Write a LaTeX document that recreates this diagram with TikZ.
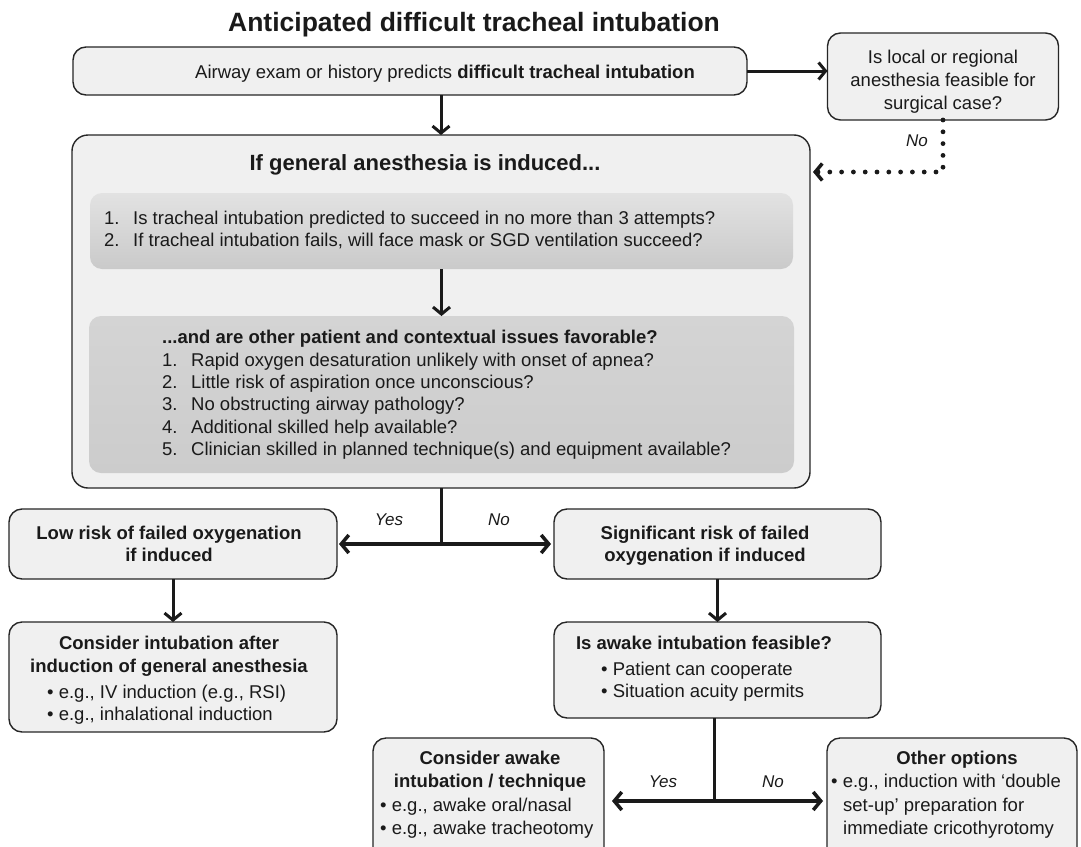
\documentclass[tikz,border=0pt]{standalone}
\usepackage{fontspec}
\setmainfont{Liberation Sans}
\usetikzlibrary{arrows.meta}

\definecolor{ink}{HTML}{1A1A1A}
\definecolor{boxfill}{HTML}{F0F0F0}
\definecolor{boxedge}{HTML}{262626}
\definecolor{shadeTopA}{HTML}{E2E2E2}
\definecolor{shadeMidA}{HTML}{ECECEC}
\definecolor{shadeBotA}{HTML}{CACACA}
\definecolor{shadeTopB}{HTML}{D4D4D4}
\definecolor{shadeMidB}{HTML}{EDEDED}
\definecolor{shadeBotB}{HTML}{CCCCCC}

\tikzset{
  box/.style={draw=boxedge, line width=1.4pt, fill=boxfill, rounded corners=13pt,
              inner sep=0pt, outer sep=0pt},
  bigbox/.style={box, rounded corners=16pt},
  panel/.style={draw=none, rounded corners=12pt, inner sep=0pt, outer sep=0pt},
  txt/.style={inner sep=0pt, text=ink, font=\fontsize{18.5}{22.4}\selectfont},
  btxt/.style={inner sep=0pt, text=ink, font=\fontsize{18.5}{22.4}\selectfont\bfseries},
  lab/.style={inner sep=0pt, text=ink, font=\fontsize{17}{20}\selectfont\itshape},
  line/.style={draw=ink, line width=3pt},
  flow/.style={line, -{Straight Barb[length=7pt,width=17pt]}},
  branch/.style={draw=ink, line width=3.5pt, -{Straight Barb[length=7.5pt,width=18pt]}},
  dotflow/.style={draw=ink, line width=4.8pt, line cap=round,
                  dash pattern=on 0pt off 11.8pt,
                  -{Straight Barb[length=7pt,width=17pt,line width=3.5pt]}},
}

\begin{document}
\begin{tikzpicture}[x=1pt,y=-1pt]
\path[use as bounding box] (0,0) rectangle (1081,846);
\clip (0,0) rectangle (1081,846);
\fill[white] (0,0) rectangle (1081,846);

% title
\node[inner sep=0pt, text=ink, font=\fontsize{26.5}{30}\selectfont\bfseries, anchor=base]
  (title) at (474,31) {Anticipated difficult tracheal intubation};

% boxes
\node[box, minimum width=674pt, minimum height=48pt] (top) at (410,71) {};
\node[box, minimum width=231pt, minimum height=87pt] (local) at (943,76.5) {};
\node[bigbox, minimum width=738pt, minimum height=353pt] (big) at (441,311.5) {};
\node[panel, minimum width=703pt, minimum height=76pt,
      top color=shadeTopA, middle color=shadeMidA, bottom color=shadeBotA]
  (panelA) at (441.5,231) {};
\node[panel, minimum width=705pt, minimum height=157pt,
      top color=shadeTopB, middle color=shadeMidB, bottom color=shadeBotB]
  (panelB) at (441.5,394.5) {};
\node[box, minimum width=328pt, minimum height=70pt] (low) at (173,544) {};
\node[box, minimum width=327pt, minimum height=70pt] (sig) at (717.5,544) {};
\node[box, minimum width=328pt, minimum height=110pt] (gen) at (173,677) {};
\node[box, minimum width=327pt, minimum height=96pt] (awake) at (717.5,670) {};
\node[box, minimum width=231pt, minimum height=140pt] (awtech) at (488.5,808) {};
\node[box, minimum width=250pt, minimum height=140pt] (other) at (952,808) {};

% top row text
\node[txt, anchor=base] (toptext) at (445,78)
  {Airway exam or history predicts \textbf{difficult tracheal intubation}};
\node[txt, anchor=base] (local1) at (943,63) {Is local or regional};
\node[txt, anchor=base] (local2) at (943,86) {anesthesia feasible for};
\node[txt, anchor=base] (local3) at (943,109) {surgical case?};

% general anaesthesia block
\node[inner sep=0pt, text=ink, font=\fontsize{22}{26}\selectfont\bfseries, anchor=base]
  (bighead) at (425,170) {If general anesthesia is induced...};
\node[txt, anchor=base west] (qa1n) at (104,224) {1.};
\node[txt, anchor=base west] (qa1) at (133,224) {Is tracheal intubation predicted to succeed in no more than 3 attempts?};
\node[txt, anchor=base west] (qa2n) at (104,246) {2.};
\node[txt, anchor=base west] (qa2) at (133,246) {If tracheal intubation fails, will face mask or SGD ventilation succeed?};

\node[btxt, anchor=base west] (qbhead) at (162,343.5) {...and are other patient and contextual issues favorable?};
\node[txt, anchor=base west] (qb1n) at (162,366) {1.};
\node[txt, anchor=base west] (qb1) at (191,366) {Rapid oxygen desaturation unlikely with onset of apnea?};
\node[txt, anchor=base west] (qb2n) at (162,388.4) {2.};
\node[txt, anchor=base west] (qb2) at (191,388.4) {Little risk of aspiration once unconscious?};
\node[txt, anchor=base west] (qb3n) at (162,410.8) {3.};
\node[txt, anchor=base west] (qb3) at (191,410.8) {No obstructing airway pathology?};
\node[txt, anchor=base west] (qb4n) at (162,433.2) {4.};
\node[txt, anchor=base west] (qb4) at (191,433.2) {Additional skilled help available?};
\node[txt, anchor=base west] (qb5n) at (162,455.6) {5.};
\node[txt, anchor=base west] (qb5) at (191,455.6) {Clinician skilled in planned technique(s) and equipment available?};

% outcome boxes
\node[btxt, anchor=base] (low1) at (169,539) {Low risk of failed oxygenation};
\node[btxt, anchor=base] (low2) at (169,561) {if induced};
\node[btxt, anchor=base] (sig1) at (705,539) {Significant risk of failed};
\node[btxt, anchor=base] (sig2) at (705,561) {oxygenation if induced};

\node[btxt, anchor=base] (gen1) at (169,649) {Consider intubation after};
\node[btxt, anchor=base] (gen2) at (169,672) {induction of general anesthesia};
\node[txt, anchor=base west] (gen3) at (47,698) {• e.g., IV induction (e.g., RSI)};
\node[txt, anchor=base west] (gen4) at (47,720) {• e.g., inhalational induction};

\node[btxt, anchor=base] (awake1) at (704,649) {Is awake intubation feasible?};
\node[txt, anchor=base west] (awake2) at (601,675) {• Patient can cooperate};
\node[txt, anchor=base west] (awake3) at (601,697) {• Situation acuity permits};

\node[btxt, anchor=base] (awtech1) at (490,764) {Consider awake};
\node[btxt, anchor=base] (awtech2) at (490,787) {intubation / technique};
\node[txt, anchor=base west] (awtech3) at (380,811) {• e.g., awake oral/nasal};
\node[txt, anchor=base west] (awtech4) at (380,834) {• e.g., awake tracheotomy};

\node[btxt, anchor=base] (other1) at (957,764) {Other options};
\node[txt, anchor=base west] (other2) at (831,787) {• e.g., induction with ‘double};
\node[txt, anchor=base west] (other3) at (843,811) {set-up’ preparation for};
\node[txt, anchor=base west] (other4) at (843,834) {immediate cricothyrotomy};

% connectors
\draw[flow] (top.east) -- (top.east -| local.west);
\draw[flow] (top.south -| big.north) -- (big.north);
\draw[flow] (panelA.south) -- (panelB.north);

\coordinate (noturn) at (local.south |- 0,172);
\draw[dotflow] (local.south) -- (noturn) -- ([xshift=3pt]noturn -| big.east);
\node[lab, anchor=base] (nolocal) at (917,146) {No};

\coordinate (forkA) at (big.south |- low.east);
\draw[line] (big.south) -- (forkA);
\draw[branch, shorten >=2pt] (forkA) -- (low.east);
\draw[branch, shorten >=3pt] (forkA) -- (sig.west);
\node[lab, anchor=base] (yesA) at (389,525) {Yes};
\node[lab, anchor=base] (noA) at (499,525) {No};

\draw[flow] (low.south) -- (gen.north);
\draw[flow] (sig.south) -- (awake.north);

\coordinate (forkB) at ([xshift=-3pt]awake.south |- 0,801);
\draw[line] ([xshift=-3pt]awake.south) -- (forkB);
\draw[branch, shorten >=8pt] (forkB) -- (forkB -| awtech.east);
\draw[branch, shorten >=4pt] (forkB) -- (forkB -| other.west);
\node[lab, anchor=base] (yesB) at (663,787) {Yes};
\node[lab, anchor=base] (noB) at (773,787) {No};
\end{tikzpicture}
\end{document}
